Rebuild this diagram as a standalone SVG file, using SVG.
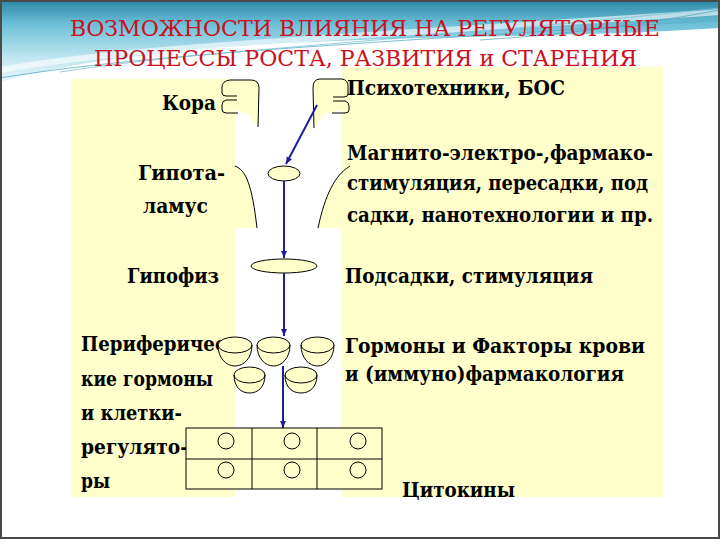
<svg xmlns="http://www.w3.org/2000/svg" width="720" height="540" viewBox="0 0 720 540">
<defs>
<linearGradient id="sky" x1="0" y1="0" x2="0" y2="1">
<stop offset="0" stop-color="#2a86a6"/>
<stop offset="0.3" stop-color="#6ec0d8"/>
<stop offset="0.7" stop-color="#bfe6f0"/>
<stop offset="1" stop-color="#e8f7fb"/>
</linearGradient>
<marker id="ah" markerWidth="8" markerHeight="8" refX="7" refY="4" orient="auto" markerUnits="userSpaceOnUse">
<path d="M0,1 L7,4 L0,7 Z" fill="#1f1f9a"/>
</marker>
<style>
.t{font-weight:bold;font-size:19.5px;fill:#000}
.ttl{font-size:23px;fill:#cc1020}
.pan{fill:#ffffcc}
.ln{fill:none;stroke:#000;stroke-width:1}
.cup{fill:#ffffcc;stroke:#000;stroke-width:1}
.con{stroke:#1f1f9a;stroke-width:2;fill:none}
</style>
</defs>
<rect width="720" height="540" fill="#ffffff"/>
<path d="M0,0 H720 V28 C600,36 470,36 360,40 C220,45 100,55 0,82 Z" fill="url(#sky)"/>
<path d="M0,70 C120,48 300,40 720,12" fill="none" stroke="#ffffff" stroke-width="6" opacity="0.6"/>
<path d="M0,78 C140,55 320,46 720,20" fill="none" stroke="#5aaec6" stroke-width="1" opacity="0.8"/>
<path d="M60,72 C200,50 400,42 720,8" fill="none" stroke="#7cc3d6" stroke-width="1" opacity="0.8"/>
<path d="M480,40 C560,35 640,25 720,10" fill="none" stroke="#4aa2bc" stroke-width="1" opacity="0.7"/>

<g id="title" font-family="DejaVu Serif, serif">
<text class="ttl" x="70" y="36" textLength="590" lengthAdjust="spacingAndGlyphs">ВОЗМОЖНОСТИ ВЛИЯНИЯ НА РЕГУЛЯТОРНЫЕ</text>
<text class="ttl" x="94" y="66" textLength="543" lengthAdjust="spacingAndGlyphs">ПРОЦЕССЫ РОСТА, РАЗВИТИЯ и СТАРЕНИЯ</text>
</g>

<rect class="pan" x="71" y="79" width="164" height="418"/>
<rect class="pan" x="341" y="67" width="322" height="430"/>

<g id="left-labels" font-family="DejaVu Serif, serif">
<text class="t" x="162" y="110" textLength="54" lengthAdjust="spacingAndGlyphs">Кора</text>
<text class="t" x="138" y="180" textLength="87" lengthAdjust="spacingAndGlyphs">Гипота-</text>
<text class="t" x="143" y="213" textLength="65" lengthAdjust="spacingAndGlyphs">ламус</text>
<text class="t" x="127" y="283" textLength="92" lengthAdjust="spacingAndGlyphs">Гипофиз</text>
<text class="t" x="81" y="351" textLength="145" lengthAdjust="spacingAndGlyphs">Периферичес</text>
<text class="t" x="81" y="386" textLength="132" lengthAdjust="spacingAndGlyphs">кие гормоны</text>
<text class="t" x="81" y="420" textLength="101" lengthAdjust="spacingAndGlyphs">и клетки-</text>
<text class="t" x="81" y="454" textLength="107" lengthAdjust="spacingAndGlyphs">регулято-</text>
<text class="t" x="81" y="488" textLength="29" lengthAdjust="spacingAndGlyphs">ры</text>
</g>

<g id="right-labels" font-family="DejaVu Serif, serif">
<text class="t" x="347" y="95" textLength="218" lengthAdjust="spacingAndGlyphs">Психотехники, БОС</text>
<text class="t" x="347" y="160" textLength="306" lengthAdjust="spacingAndGlyphs">Магнито-электро-,фармако-</text>
<text class="t" x="347" y="190" textLength="301" lengthAdjust="spacingAndGlyphs">стимуляция, пересадки, под</text>
<text class="t" x="347" y="222" textLength="306" lengthAdjust="spacingAndGlyphs">садки, нанотехнологии и пр.</text>
<text class="t" x="345" y="283" textLength="248" lengthAdjust="spacingAndGlyphs">Подсадки, стимуляция</text>
<text class="t" x="345" y="353" textLength="300" lengthAdjust="spacingAndGlyphs">Гормоны и Факторы крови</text>
<text class="t" x="345" y="381" textLength="279" lengthAdjust="spacingAndGlyphs">и (иммуно)фармакология</text>
<text class="t" x="402" y="497" textLength="113" lengthAdjust="spacingAndGlyphs">Цитокины</text>
</g>

<g id="cortex">
<path class="pan" d="M235,80 L252,80 Q259,80 259,88 L258,127 L248,114 L235,110 Z"/>
<path class="ln" d="M258,127 L259,88 Q259,80 251,80 L230,80 Q222,81 222,87 L222,93 Q222,96 226,96 L237,96 M237,100 L226,100 Q222,101 222,105 L222,109 Q222,113 226,113 L238,113"/>
</g>
<g id="psycho">
<path class="pan" d="M341,79 L320,79 Q313,79 313,88 L314,128 L324,114 L341,110 Z"/>
<path class="ln" d="M314,128 L313,88 Q313,79 320,79 L342,79 Q348,80 348,86 L348,94 Q348,97 344,97 L333,97 M333,101 L345,101 Q349,102 349,106 L349,110 Q349,113 345,113 L332,113"/>
</g>

<g id="hypothalamus">
<path class="pan" d="M235,166 C246,170 252,185 257,228 L235,228 Z"/>
<path class="ln" d="M235,166 C246,170 252,185 257,228"/>
<path class="pan" d="M350,166 C335,175 325,195 318,228 L341,228 L341,166 Z"/>
<path class="ln" d="M350,166 C335,175 325,195 318,228"/>
<ellipse class="cup" cx="284" cy="173.5" rx="16" ry="7.5"/>
</g>

<g id="hypophysis">
<ellipse class="cup" cx="284" cy="266" rx="33" ry="7"/>
</g>

<g id="connectors">
<line class="con" x1="317" y1="105" x2="286" y2="164" marker-end="url(#ah)"/>
<line class="con" x1="284" y1="181" x2="284" y2="258" marker-end="url(#ah)"/>
<line class="con" x1="284" y1="273" x2="284" y2="336" marker-end="url(#ah)"/>
<line class="con" x1="283" y1="366" x2="283" y2="428" marker-end="url(#ah)"/>
</g>

<g id="hormones">
<path class="cup" d="M218,345 A17,8 0 0 1 252,345 C252,358 244,366 235,366 C226,366 218,358 218,345 Z"/>
<path class="ln" d="M218,345 A17,8 0 0 0 252,345"/>
<path class="cup" d="M257,345 A16.5,8 0 0 1 290,345 C290,358 282,366 273.5,366 C265,366 257,358 257,345 Z"/>
<path class="ln" d="M257,345 A16.5,8 0 0 0 290,345"/>
<path class="cup" d="M301,345 A16.5,8 0 0 1 334,345 C334,358 326,366 317.5,366 C309,366 301,358 301,345 Z"/>
<path class="ln" d="M301,345 A16.5,8 0 0 0 334,345"/>
<path class="cup" d="M234,375 A15.5,8 0 0 1 265,375 C265,387 258,393 249.5,393 C241,393 234,387 234,375 Z"/>
<path class="ln" d="M234,375 A15.5,8 0 0 0 265,375"/>
<path class="cup" d="M285,375 A16,8 0 0 1 317,375 C317,387 310,393 301,393 C292,393 285,387 285,375 Z"/>
<path class="ln" d="M285,375 A16,8 0 0 0 317,375"/>
</g>

<g id="cells">
<rect class="cup" x="186" y="428" width="196" height="61"/>
<path class="ln" d="M252,428 V489 M317,428 V489 M186,459 H382"/>
<circle class="ln" cx="226" cy="441" r="8"/>
<circle class="ln" cx="292" cy="441" r="8"/>
<circle class="ln" cx="358" cy="441" r="8"/>
<circle class="ln" cx="226" cy="470" r="8"/>
<circle class="ln" cx="292" cy="470" r="8"/>
<circle class="ln" cx="358" cy="470" r="8"/>
</g>

<rect x="1" y="1" width="718" height="537" fill="none" stroke="#4a4a4a" stroke-width="2"/>
</svg>
